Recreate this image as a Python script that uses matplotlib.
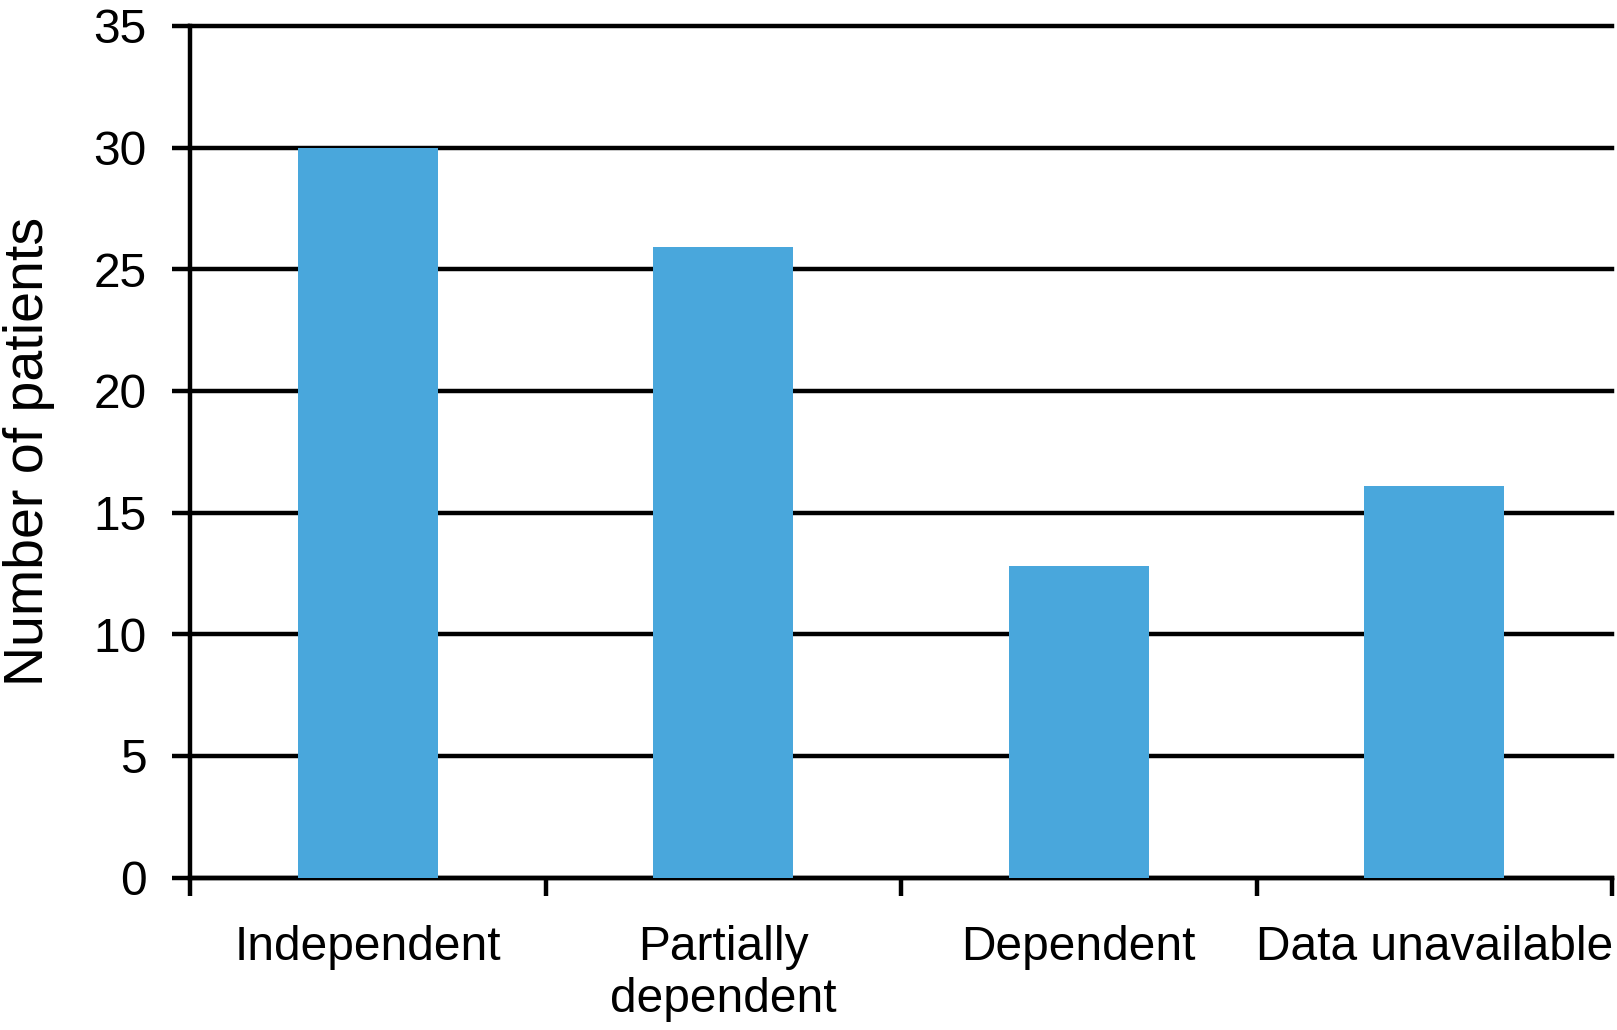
import numpy as np
from matplotlib import pyplot as plt

plt.rcParams['font.family'] = ['Liberation Sans', 'DejaVu Sans']

# data
categories = ["Independent", "Partially\ndependent", "Dependent", "Data unavailable"]
patients = [30, 25.9, 12.8, 16.1]
y_ticks = [0, 5, 10, 15, 20, 25, 30, 35]

BAR_COLOR = "#49A7DC"
LW = 3.2

fig = plt.figure(figsize=(16.17, 10.30), dpi=100)
ax = fig.add_axes([0.1175, 0.148, 0.8795, 0.8268])

x = np.arange(len(categories))
ax.bar(x, patients, width=0.394, color=BAR_COLOR, zorder=3)

ax.set_xlim(-0.5, len(categories) - 0.5)
ax.set_ylim(0, 35)
ax.set_yticks(y_ticks)
ax.grid(axis="y", color="black", linewidth=LW, zorder=1)
ax.set_axisbelow(True)
# top gridline should not be cut in half by the axes edge
for gl in ax.get_ygridlines():
    gl.set_clip_on(False)

# tick marks sit between categories, labels sit under the bars
ax.set_xticks(np.arange(-0.5, len(categories), 1.0))
ax.set_xticklabels([])
ax.set_xticks(x, minor=True)
ax.set_xticklabels(categories, minor=True, fontsize=34.5, linespacing=1.2)
ax.tick_params(axis="x", which="major", length=13, width=LW, direction="out")
ax.tick_params(axis="x", which="minor", length=0, pad=34)
ax.tick_params(axis="y", length=13, width=LW, direction="out", labelsize=34.5, pad=18)

for s in ["top", "right"]:
    ax.spines[s].set_visible(False)
for s in ["left", "bottom"]:
    ax.spines[s].set_linewidth(LW)

ax.set_ylabel("Number of patients", fontsize=40, va="center")
ax.yaxis.set_label_coords(-0.113, 0.5)

fig.savefig("out.png", dpi=100)
